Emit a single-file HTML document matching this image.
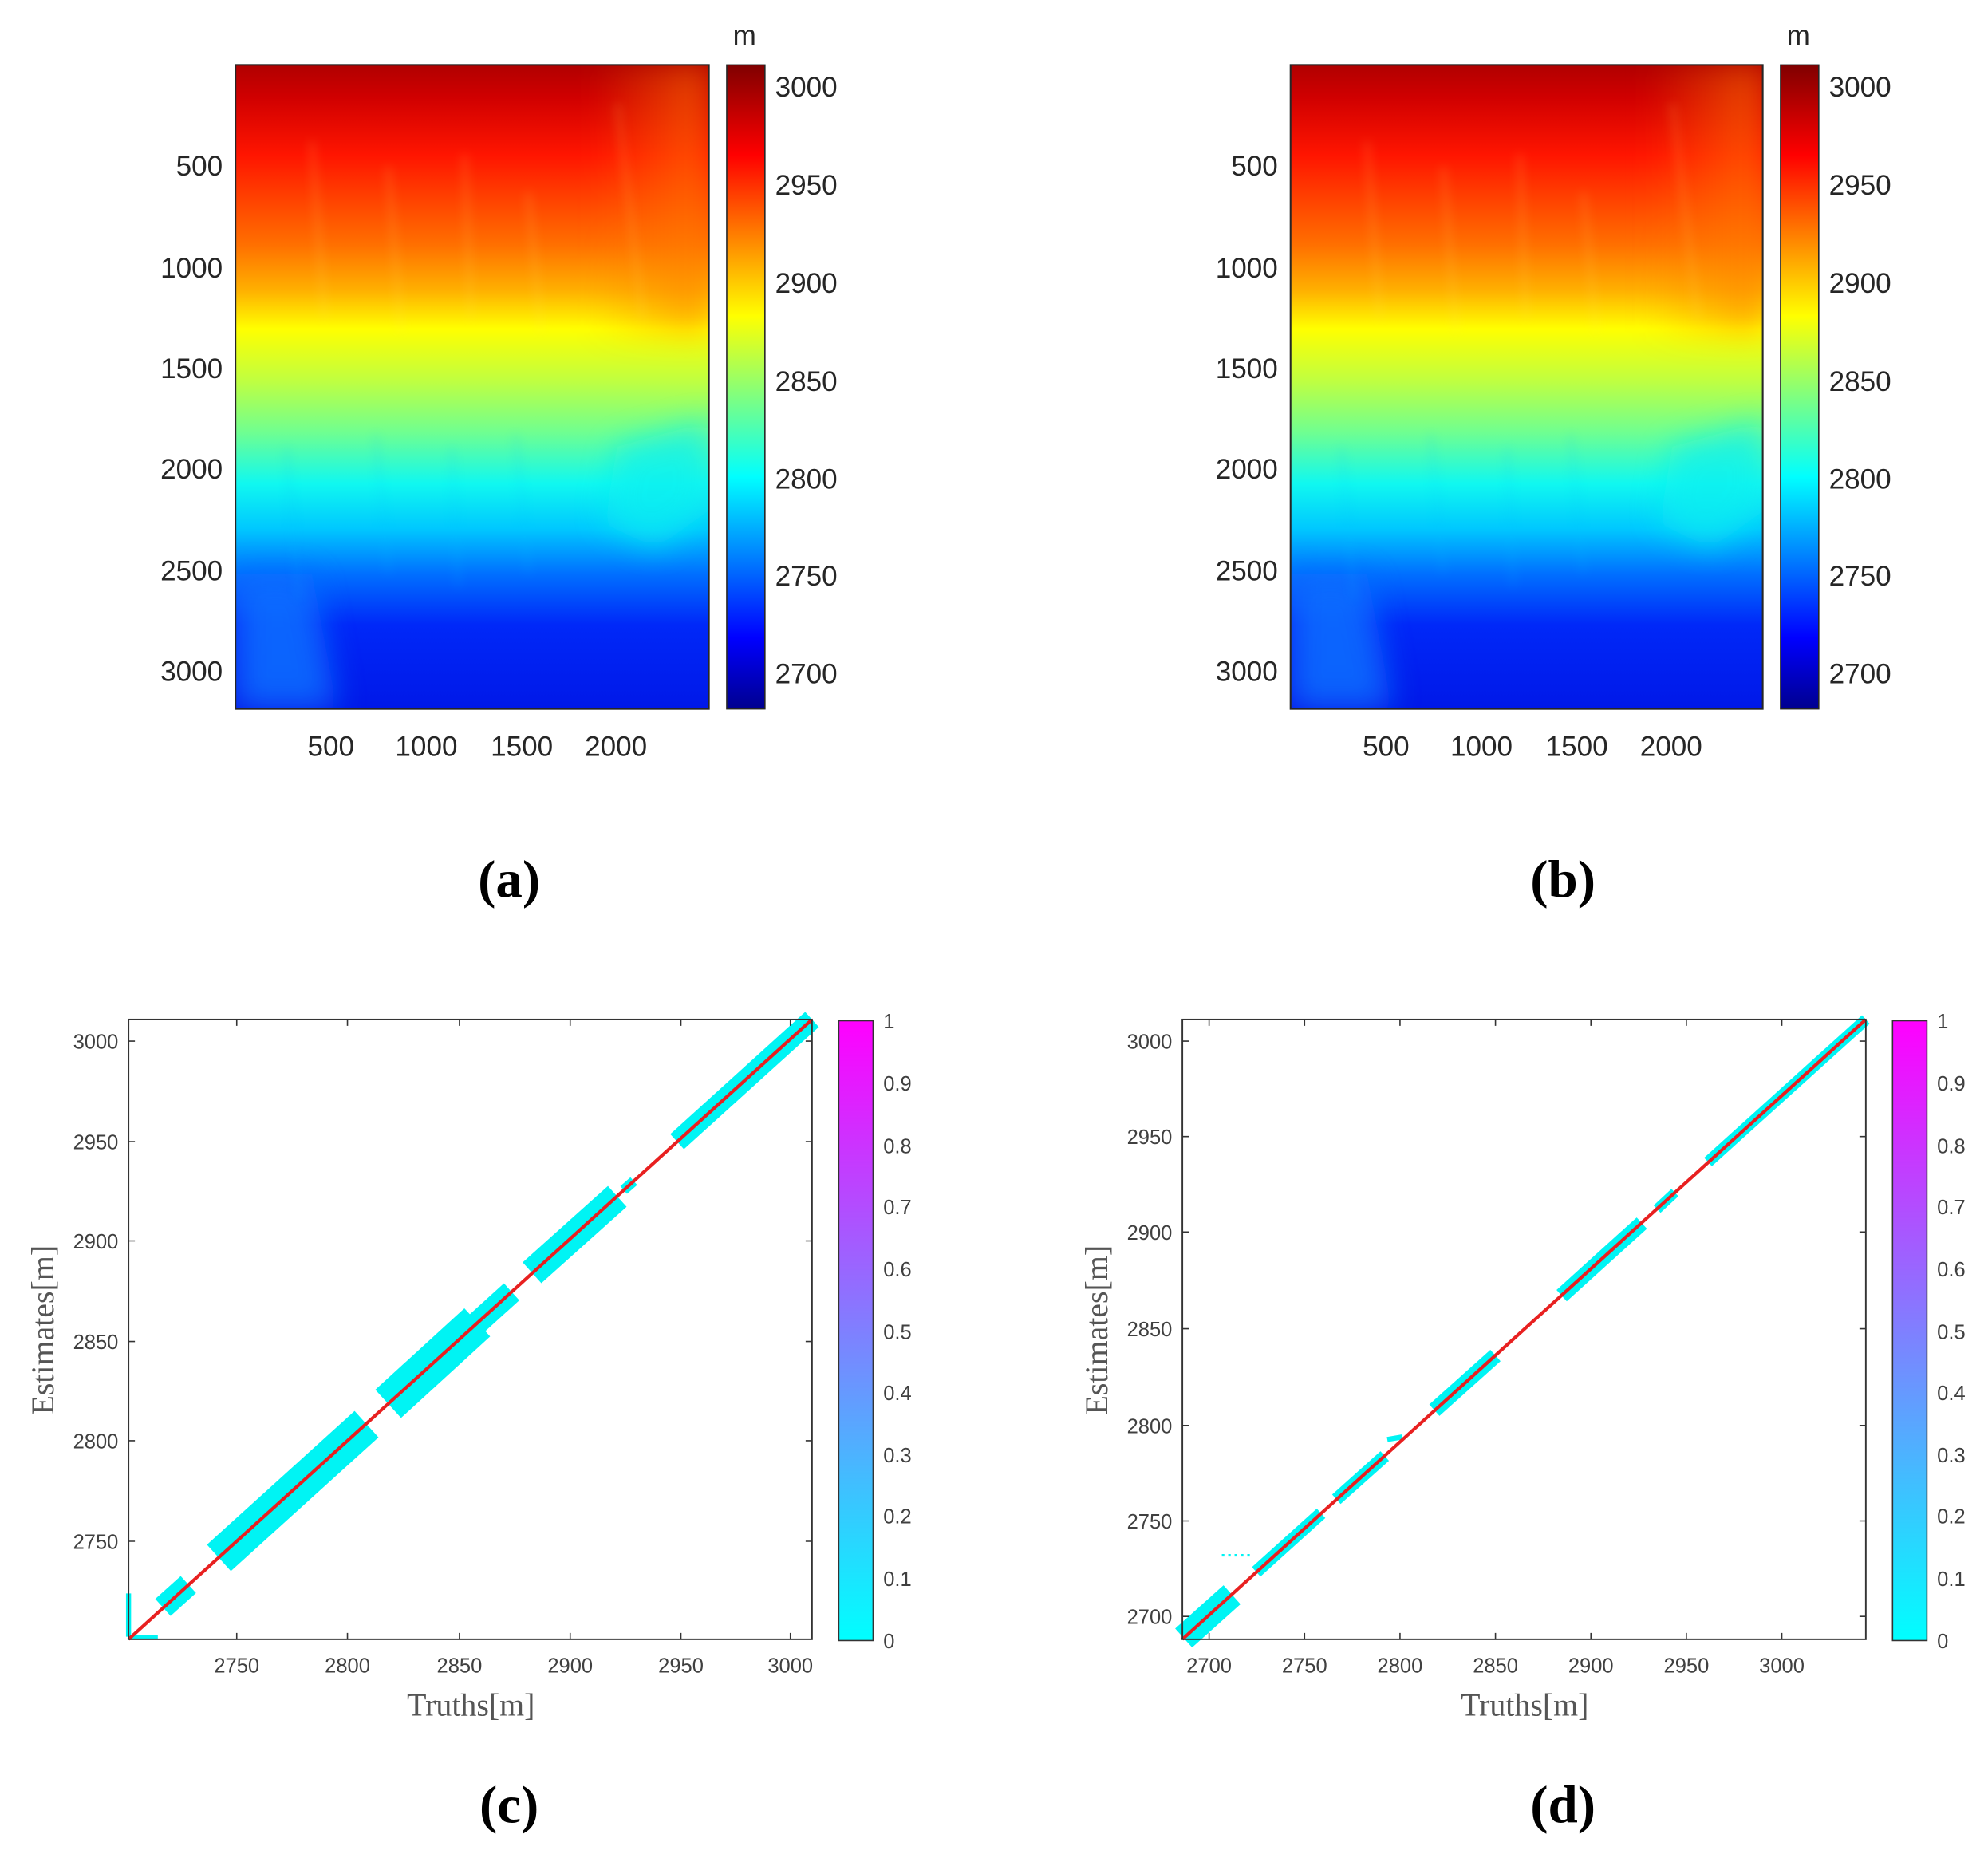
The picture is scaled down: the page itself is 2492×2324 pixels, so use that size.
<!DOCTYPE html>
<html><head><meta charset="utf-8"><style>html,body{margin:0;padding:0;background:#fff}svg{display:block}</style></head>
<body>
<svg width="2492" height="2324" viewBox="0 0 1562 1456.7" preserveAspectRatio="none" xmlns="http://www.w3.org/2000/svg" font-family="Liberation Sans, sans-serif">
<defs>
<linearGradient id="jetv" x1="0" y1="0" x2="0" y2="1">
<stop offset="0" stop-color="#b00000"/><stop offset="0.05" stop-color="#d00000"/><stop offset="0.14" stop-color="#ff1500"/><stop offset="0.28" stop-color="#ff7000"/>
<stop offset="0.35" stop-color="#ffb000"/><stop offset="0.41" stop-color="#ffff00"/><stop offset="0.49" stop-color="#c0ff40"/>
<stop offset="0.57" stop-color="#70ff90"/><stop offset="0.65" stop-color="#10f8f0"/><stop offset="0.72" stop-color="#00c8ff"/>
<stop offset="0.79" stop-color="#0070ff"/><stop offset="0.87" stop-color="#0028f8"/><stop offset="1" stop-color="#0018e8"/>
</linearGradient>
<linearGradient id="cbjet" x1="0" y1="1" x2="0" y2="0">
<stop offset="0" stop-color="#00008f"/><stop offset="0.11" stop-color="#0000ff"/><stop offset="0.36" stop-color="#00ffff"/>
<stop offset="0.61" stop-color="#ffff00"/><stop offset="0.86" stop-color="#ff0000"/><stop offset="1" stop-color="#800000"/>
</linearGradient>
<linearGradient id="cool" x1="0" y1="1" x2="0" y2="0"><stop offset="0" stop-color="#00ffff"/><stop offset="1" stop-color="#ff00ff"/></linearGradient>
<linearGradient id="topright" x1="0" y1="0" x2="1" y2="0"><stop offset="0" stop-color="#ff8000" stop-opacity="0"/><stop offset="1" stop-color="#ff8000" stop-opacity="0.6"/></linearGradient>
<filter id="bl" x="-50%" y="-50%" width="200%" height="200%"><feGaussianBlur stdDeviation="12"/></filter>
<filter id="bl2" x="-50%" y="-50%" width="200%" height="200%"><feGaussianBlur stdDeviation="4"/></filter>
<clipPath id="ca"><rect x="185" y="51" width="372" height="506"/></clipPath>
<clipPath id="cb"><rect x="1014" y="51" width="371" height="506"/></clipPath>
<g id="heat">
<rect x="0" y="0" width="372" height="506" fill="url(#jetv)"/>
<rect x="280" y="0" width="92" height="210" fill="url(#topright)" filter="url(#bl)"/>
<path d="M300 300 L372 280 L372 350 L330 380 L290 360 Z" fill="#10f0f0" opacity="0.7" filter="url(#bl)"/>
<path d="M0 400 L60 400 L80 506 L0 506 Z" fill="#1070ff" opacity="0.85" filter="url(#bl)"/>
<g stroke="#ffe060" stroke-width="4" opacity="0.18" filter="url(#bl2)" fill="none">
<path d="M60 60 L70 200"/><path d="M120 80 L130 210"/><path d="M180 70 L185 200"/><path d="M230 100 L240 210"/><path d="M300 30 L320 200"/>
</g>
<g stroke="#00c0ff" stroke-width="4" opacity="0.15" filter="url(#bl2)" fill="none">
<path d="M40 300 L50 420"/><path d="M110 290 L120 400"/><path d="M170 300 L175 410"/><path d="M220 290 L230 400"/>
</g>
</g>
</defs>
<rect width="1562" height="1457" fill="#fff"/>

<!-- Panel a -->
<g clip-path="url(#ca)"><use href="#heat" x="185" y="51"/></g>
<rect x="185" y="51" width="372" height="506" fill="none" stroke="#262626" stroke-width="1.3"/>
<rect x="571" y="51" width="30" height="506" fill="url(#cbjet)" stroke="#262626" stroke-width="1"/>
<g font-size="22" fill="#262626">
<text x="585" y="35" text-anchor="middle">m</text>
<g text-anchor="end"><text x="175" y="138">500</text><text x="175" y="218">1000</text><text x="175" y="297">1500</text><text x="175" y="376">2000</text><text x="175" y="456">2500</text><text x="175" y="535">3000</text></g>
<g text-anchor="middle"><text x="260" y="594">500</text><text x="335" y="594">1000</text><text x="410" y="594">1500</text><text x="484" y="594">2000</text></g>
<g><text x="609" y="76">3000</text><text x="609" y="153">2950</text><text x="609" y="230">2900</text><text x="609" y="307">2850</text><text x="609" y="384">2800</text><text x="609" y="460">2750</text><text x="609" y="537">2700</text></g>
</g>
<text x="400" y="705" font-family="Liberation Serif, serif" font-weight="bold" font-size="42" text-anchor="middle">(a)</text>

<!-- Panel b -->
<g clip-path="url(#cb)"><use href="#heat" x="1014" y="51"/></g>
<rect x="1014" y="51" width="371" height="506" fill="none" stroke="#262626" stroke-width="1.3"/>
<rect x="1399" y="51" width="30" height="506" fill="url(#cbjet)" stroke="#262626" stroke-width="1"/>
<g font-size="22" fill="#262626">
<text x="1413" y="35" text-anchor="middle">m</text>
<g text-anchor="end"><text x="1004" y="138">500</text><text x="1004" y="218">1000</text><text x="1004" y="297">1500</text><text x="1004" y="376">2000</text><text x="1004" y="456">2500</text><text x="1004" y="535">3000</text></g>
<g text-anchor="middle"><text x="1089" y="594">500</text><text x="1164" y="594">1000</text><text x="1239" y="594">1500</text><text x="1313" y="594">2000</text></g>
<g><text x="1437" y="76">3000</text><text x="1437" y="153">2950</text><text x="1437" y="230">2900</text><text x="1437" y="307">2850</text><text x="1437" y="384">2800</text><text x="1437" y="460">2750</text><text x="1437" y="537">2700</text></g>
</g>
<text x="1228" y="705" font-family="Liberation Serif, serif" font-weight="bold" font-size="42" text-anchor="middle">(b)</text>

<!-- Panel c -->
<g stroke="#00f4f4" stroke-linecap="butt">
<line x1="101" y1="1252" x2="101" y2="1286" stroke-width="4"/>
<line x1="102" y1="1286" x2="124" y2="1286" stroke-width="3"/>
<line x1="128" y1="1263" x2="148" y2="1245" stroke-width="18"/>
<line x1="172" y1="1224" x2="288" y2="1119" stroke-width="28"/>
<line x1="305" y1="1103" x2="375" y2="1039" stroke-width="30"/>
<line x1="370" y1="1044" x2="402" y2="1015" stroke-width="18"/>
<line x1="418" y1="1000" x2="485" y2="940" stroke-width="22"/>
<line x1="490" y1="935" x2="498" y2="928" stroke-width="8"/>
<line x1="532" y1="897" x2="638" y2="801" stroke-width="16"/>
</g>
<line x1="101" y1="1288" x2="638" y2="801" stroke="#e82020" stroke-width="2.6"/>
<rect x="101" y="801" width="537" height="487" fill="none" stroke="#333" stroke-width="1.2"/>
<g stroke="#333" stroke-width="1"><path d="M186 1288v-5M273 1288v-5M361 1288v-5M448 1288v-5M535 1288v-5M621 1288v-5M186 801v5M273 801v5M361 801v5M448 801v5M535 801v5M621 801v5M101 818h5M101 897h5M101 975h5M101 1054h5M101 1132h5M101 1211h5M638 818h-5M638 897h-5M638 975h-5M638 1054h-5M638 1132h-5M638 1211h-5"/></g>
<rect x="659" y="802" width="27" height="487" fill="url(#cool)" stroke="#333" stroke-width="1"/>
<g font-size="16" fill="#404040">
<g text-anchor="end"><text x="93" y="824">3000</text><text x="93" y="903">2950</text><text x="93" y="981">2900</text><text x="93" y="1060">2850</text><text x="93" y="1138">2800</text><text x="93" y="1217">2750</text></g>
<g text-anchor="middle"><text x="186" y="1314">2750</text><text x="273" y="1314">2800</text><text x="361" y="1314">2850</text><text x="448" y="1314">2900</text><text x="535" y="1314">2950</text><text x="621" y="1314">3000</text></g>
<g><text x="694" y="808">1</text><text x="694" y="857">0.9</text><text x="694" y="906">0.8</text><text x="694" y="954">0.7</text><text x="694" y="1003">0.6</text><text x="694" y="1052">0.5</text><text x="694" y="1100">0.4</text><text x="694" y="1149">0.3</text><text x="694" y="1197">0.2</text><text x="694" y="1246">0.1</text><text x="694" y="1295">0</text></g>
</g>
<text x="370" y="1348" font-family="Liberation Serif, serif" font-size="25" fill="#555" text-anchor="middle">Truths[m]</text>
<text transform="translate(42,1045) rotate(-90)" font-family="Liberation Serif, serif" font-size="25" fill="#555" text-anchor="middle">Estimates[m]</text>
<text x="400" y="1432" font-family="Liberation Serif, serif" font-weight="bold" font-size="42" text-anchor="middle">(c)</text>

<!-- Panel d -->
<g stroke="#00f4f4" stroke-linecap="butt">
<line x1="930" y1="1287" x2="968" y2="1253" stroke-width="20"/>
<line x1="960" y1="1222" x2="985" y2="1222" stroke-width="2" stroke-dasharray="2 3"/>
<line x1="987" y1="1235" x2="1038" y2="1189" stroke-width="10"/>
<line x1="1050" y1="1178" x2="1088" y2="1144" stroke-width="10"/>
<line x1="1090" y1="1131" x2="1102" y2="1129" stroke-width="4"/>
<line x1="1127" y1="1108" x2="1175" y2="1065" stroke-width="12"/>
<line x1="1227" y1="1018" x2="1290" y2="961" stroke-width="12"/>
<line x1="1302" y1="950" x2="1316" y2="937" stroke-width="8"/>
<line x1="1342" y1="913" x2="1466" y2="801" stroke-width="9"/>
</g>
<line x1="929" y1="1288" x2="1466" y2="801" stroke="#e82020" stroke-width="2.6"/>
<rect x="929" y="801" width="537" height="487" fill="none" stroke="#333" stroke-width="1.2"/>
<g stroke="#333" stroke-width="1"><path d="M950 1288v-5M1025 1288v-5M1100 1288v-5M1175 1288v-5M1250 1288v-5M1325 1288v-5M1400 1288v-5M950 801v5M1025 801v5M1100 801v5M1175 801v5M1250 801v5M1325 801v5M1400 801v5M929 818h5M929 893h5M929 968h5M929 1044h5M929 1120h5M929 1195h5M929 1270h5M1466 818h-5M1466 893h-5M1466 968h-5M1466 1044h-5M1466 1120h-5M1466 1195h-5M1466 1270h-5"/></g>
<rect x="1487" y="802" width="27" height="487" fill="url(#cool)" stroke="#333" stroke-width="1"/>
<g font-size="16" fill="#404040">
<g text-anchor="end"><text x="921" y="824">3000</text><text x="921" y="899">2950</text><text x="921" y="974">2900</text><text x="921" y="1050">2850</text><text x="921" y="1126">2800</text><text x="921" y="1201">2750</text><text x="921" y="1276">2700</text></g>
<g text-anchor="middle"><text x="950" y="1314">2700</text><text x="1025" y="1314">2750</text><text x="1100" y="1314">2800</text><text x="1175" y="1314">2850</text><text x="1250" y="1314">2900</text><text x="1325" y="1314">2950</text><text x="1400" y="1314">3000</text></g>
<g><text x="1522" y="808">1</text><text x="1522" y="857">0.9</text><text x="1522" y="906">0.8</text><text x="1522" y="954">0.7</text><text x="1522" y="1003">0.6</text><text x="1522" y="1052">0.5</text><text x="1522" y="1100">0.4</text><text x="1522" y="1149">0.3</text><text x="1522" y="1197">0.2</text><text x="1522" y="1246">0.1</text><text x="1522" y="1295">0</text></g>
</g>
<text x="1198" y="1348" font-family="Liberation Serif, serif" font-size="25" fill="#555" text-anchor="middle">Truths[m]</text>
<text transform="translate(870,1045) rotate(-90)" font-family="Liberation Serif, serif" font-size="25" fill="#555" text-anchor="middle">Estimates[m]</text>
<text x="1228" y="1432" font-family="Liberation Serif, serif" font-weight="bold" font-size="42" text-anchor="middle">(d)</text>
</svg>
</body></html>
